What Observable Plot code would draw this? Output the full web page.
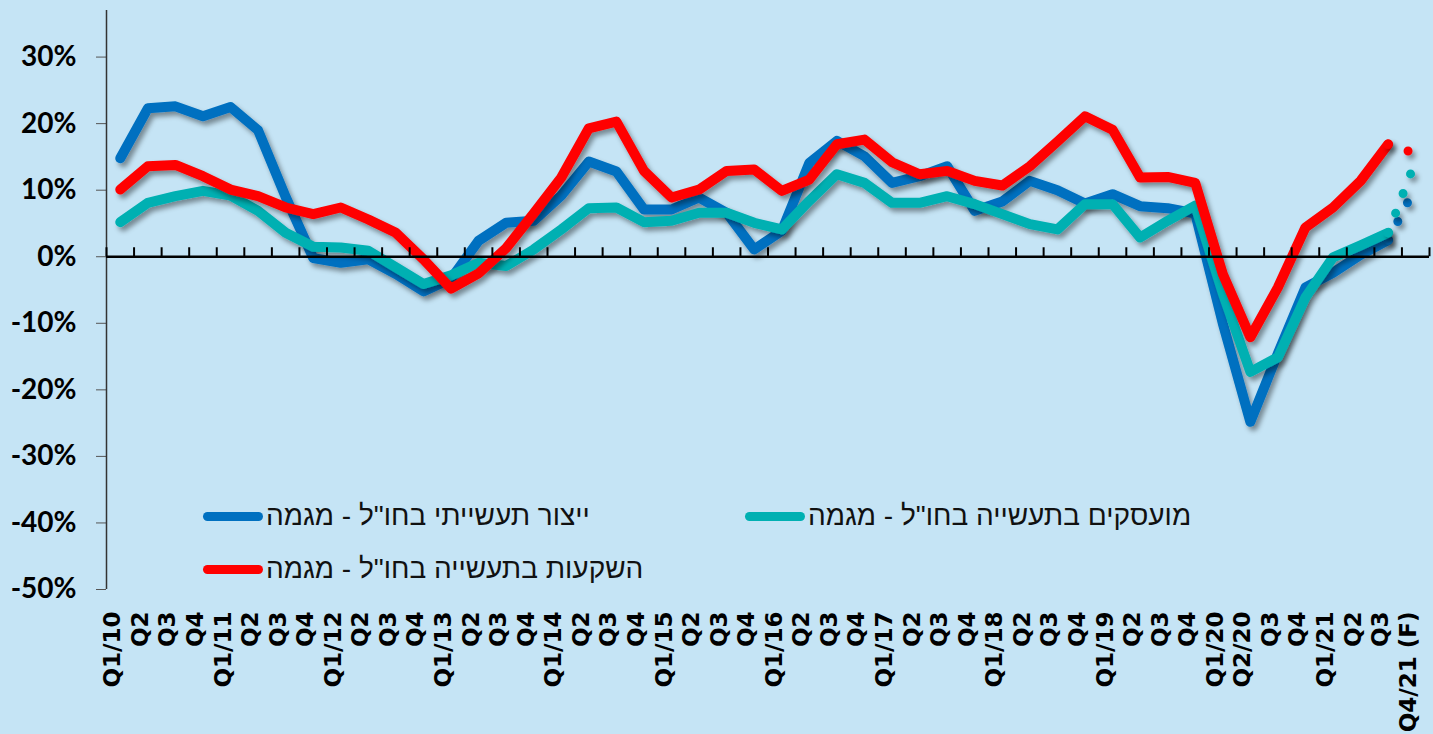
<!DOCTYPE html>
<html>
<head>
<meta charset="utf-8">
<script src="https://cdn.jsdelivr.net/npm/d3@7"></script>
<script src="https://cdn.jsdelivr.net/npm/@observablehq/plot@0.6"></script>
<style>
  html, body { margin: 0; padding: 0; background: #C5E4F5; overflow: hidden; }
  #wrap { position: relative; width: 1433px; height: 734px; }
  .leg { position: absolute; display: flex; align-items: center; font-family: "Liberation Sans", Arial, sans-serif; font-size: 28px; color: #111; white-space: nowrap; }
  .sw { width: 60px; height: 9px; border-radius: 5px; margin-right: 3px; }
</style>
</head>
<body>
<div id="wrap"></div>
<script>
const labels = ["Q1/10","Q2","Q3","Q4","Q1/11","Q2","Q3","Q4","Q1/12","Q2","Q3","Q4",
  "Q1/13","Q2","Q3","Q4","Q1/14","Q2","Q3","Q4","Q1/15","Q2","Q3","Q4",
  "Q1/16","Q2","Q3","Q4","Q1/17","Q2","Q3","Q4","Q1/18","Q2","Q3","Q4",
  "Q1/19","Q2","Q3","Q4","Q1/20","Q2/20","Q3","Q4","Q1/21","Q2","Q3","Q4/21 (F)"];

// last value in each series = Q4/21 forecast
const production = [14.8,22.3,22.6,21.1,22.5,19.0,9.0,-0.2,-0.9,-0.4,-2.6,-5.2,
  -3.3,2.4,5.1,5.4,9.2,14.3,12.8,7.1,7.1,8.9,6.6,1.1,
  3.9,14.1,17.4,15.1,11.1,12.1,13.6,6.9,8.3,11.4,10.0,8.0,
  9.4,7.6,7.3,6.5,-10.0,-24.8,-14.5,-4.6,-2.4,0.3,2.5,10.5];
const employment = [5.2,8.1,9.1,9.9,9.2,6.9,3.6,1.5,1.4,0.9,-1.6,-4.1,
  -2.8,-0.9,-1.4,1.1,4.1,7.3,7.4,5.2,5.4,6.6,6.6,5.1,
  4.1,8.4,12.4,11.1,8.1,8.1,9.1,7.9,6.4,4.9,4.1,7.9,
  7.9,2.9,5.4,7.7,-5.5,-17.3,-15.1,-6.1,-0.1,1.7,3.6,14.5];
const investment = [10.1,13.6,13.8,12.1,10.1,9.1,7.4,6.4,7.4,5.6,3.6,-0.4,
  -4.8,-2.5,1.3,6.5,11.9,19.3,20.3,12.9,8.9,10.1,12.9,13.1,
  9.9,11.6,16.9,17.6,14.2,12.4,12.9,11.4,10.7,13.6,17.3,21.1,
  19.1,11.9,12.0,11.1,-2.6,-12.1,-4.6,4.4,7.4,11.4,16.9,15.5];

const seriesNames = ['ייצור תעשייתי בחו"ל - מגמה', 'מועסקים בתעשייה בחו"ל - מגמה', 'השקעות בתעשייה בחו"ל - מגמה'];
const seriesColors = ["#0070C0", "#00B0B2", "#FF0000"];
const yTicks = [-50, -40, -30, -20, -10, 0, 10, 20, 30];

const allSeries = [production, employment, investment];
const n = labels.length;
const idx = d3.range(n);
const boundaries = d3.range(n + 1).map(i => i - 0.5);

const lineMarks = [];
allSeries.forEach((vals, s) => {
  const solid = vals.slice(0, n - 1).map((v, i) => ({i, v}));
  const fc = [{i: n - 2, v: vals[n - 2]}, {i: n - 1, v: vals[n - 1]}];
  lineMarks.push(Plot.line(solid, {x: "i", y: "v", stroke: seriesColors[s], strokeWidth: 10,
    strokeLinecap: "round", strokeLinejoin: "round"}));
  lineMarks.push(Plot.line(fc, {x: "i", y: "v", stroke: seriesColors[s], strokeWidth: 9,
    strokeLinecap: "round", strokeDasharray: "0 21"}));
});

const chart = Plot.plot({
  width: 1433,
  height: 734,
  marginLeft: 106,
  marginRight: 4,
  marginTop: 10,
  marginBottom: 145,
  style: {background: "transparent", overflow: "visible"},
  x: {domain: [-0.5, n - 0.5], axis: null},
  y: {domain: [-50, 37], axis: null},
  marks: [
    Plot.axisY({ticks: yTicks, tickFormat: d => d + "%", tickSize: 10, tickPadding: 20, label: null,
      stroke: "#555", fontSize: 28, fontWeight: "bold", fontFamily: "Lato, 'Liberation Sans', sans-serif", fill: "#000"}),
    Plot.ruleX([-0.5], {stroke: "#333", strokeWidth: 1.5}),
    ...lineMarks,
    Plot.ruleY([0], {stroke: "#000", strokeWidth: 2.5}),
    Plot.ruleX(boundaries, {y1: 0, y2: 1.35, stroke: "#000", strokeWidth: 2}),
    Plot.text(idx, {x: d => d, text: d => labels[d], frameAnchor: "bottom", rotate: -90,
      textAnchor: "end", dy: 22, fontFamily: "'DejaVu Sans', sans-serif", fontWeight: "bold",
      fontSize: 23, fill: "#000"})
  ]
});

// drop shadow on the trend lines
const svgns = "http://www.w3.org/2000/svg";
const defs = document.createElementNS(svgns, "defs");
defs.innerHTML = '<filter id="sh" filterUnits="userSpaceOnUse" x="0" y="0" width="1433" height="734"><feDropShadow dx="3" dy="4" stdDeviation="2.5" flood-color="#000" flood-opacity="0.4"/></filter>';
chart.insertBefore(defs, chart.firstChild);
chart.querySelectorAll('g[aria-label="line"]').forEach(g => g.setAttribute("filter", "url(#sh)"));

const wrap = document.getElementById("wrap");
wrap.appendChild(chart);
chart.style.position = "absolute";
chart.style.left = "0px";
chart.style.top = "0px";

// legend (inside plot area)
const legendPos = [{l: 203, t: 517}, {l: 745, t: 517}, {l: 203, t: 570}];
[0, 1, 2].forEach(s => {
  const d = document.createElement("div");
  d.className = "leg";
  d.style.left = legendPos[s].l + "px";
  d.style.top = (legendPos[s].t - 17) + "px";
  d.innerHTML = '<div class="sw" style="background:' + seriesColors[s] + '"></div><span dir="rtl"></span>';
  d.querySelector("span").textContent = seriesNames[s];
  wrap.appendChild(d);
});
</script>
</body>
</html>
